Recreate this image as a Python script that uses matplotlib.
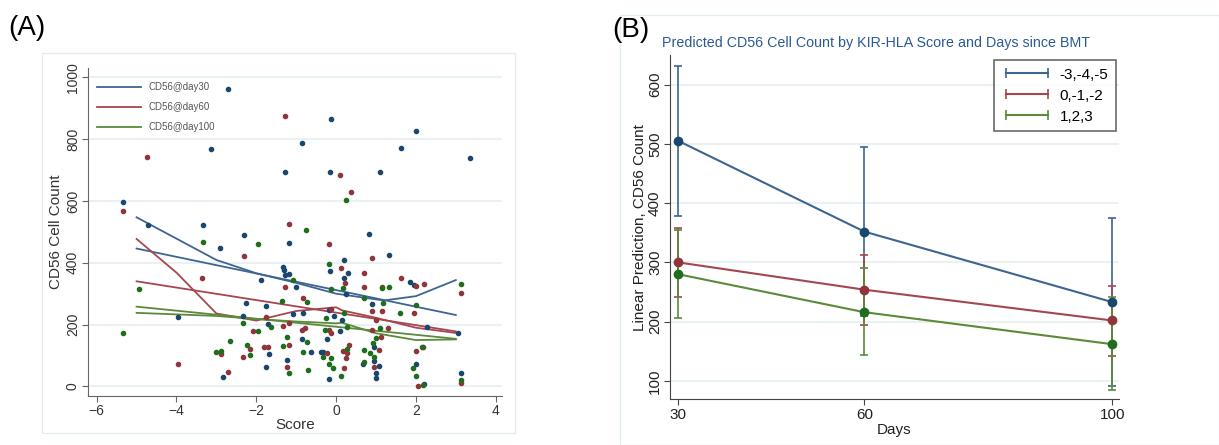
import numpy as np
import matplotlib.pyplot as plt
from matplotlib.patches import Rectangle
from matplotlib.lines import Line2D

plt.rcParams['font.family'] = ['Liberation Sans', 'DejaVu Sans']

# ---- panel A data (score, CD56 count) ----
blue_x = [-5.33, -4.71, -2.72, -3.13, -3.34, -3.97, -2.90, -2.31, -2.25, -2.34, -1.89, -1.75, -1.70,
          -1.68, -1.75, -2.83, -1.29, -1.18, -1.34, -1.30, -1.29, -1.17, -1.01, -1.08, -1.23, -0.85,
          -0.84, -0.86, -0.64, -0.39, -0.33, -0.23, -0.17, -0.18, -0.12, -0.15, -0.15, -0.06, 0.10,
          0.16, 0.20, 0.21, 0.31, 0.25, 0.83, 0.89, 0.95, 0.68, 0.96, 1.00, 1.07, 1.11, 1.32, 1.62,
          1.85, 1.95, 1.99, 2.00, 2.20, 2.27, 3.05, 3.14, 3.35, 0.99]
blue_y = [595, 522, 961, 767, 522, 225, 447, 491, 269, 229, 344, 260, 201,
          104, 64, 30, 695, 463, 387, 377, 359, 364, 323, 233, 87, 786,
          236, 155, 111, 112, 112, 155, 247, 23, 866, 694, 374, 228, 178,
          215, 408, 352, 366, 299, 493, 266, 82, 74, 128, 42, 66, 695, 426, 772,
          339, 328, 825, 74, 8, 191, 172, 42, 739, 26]
red_x = [-5.33, -4.73, -3.96, -3.35, -2.89, -2.72, -2.31, -2.34, -2.16, -2.09, -1.81, -1.75, -1.71,
         -1.29, -1.18, -1.29, -1.33, -1.17, -1.17, -1.24, -0.82, -0.86, -0.78, -0.17, -0.13, -0.18,
         -0.14, -0.23, 0.10, 0.37, 0.12, 0.23, 0.17, 0.28, 0.33, 0.21, 0.25, 0.69, 0.69, 0.90, 0.90,
         1.14, 1.16, 1.00, 0.90, 1.13, 1.07, 0.94, 1.30, 1.62, 1.99, 2.21, 1.95, 1.99, 2.18, 2.04,
         3.14, 3.13]
red_y = [568, 743, 74, 352, 104, 47, 423, 94, 120, 179, 128, 225, 128,
         876, 525, 323, 197, 206, 134, 64, 287, 182, 188, 462, 252, 182,
         174, 109, 683, 629, 384, 333, 114, 107, 134, 59, 93, 368, 323, 417, 245,
         323, 245, 215, 182, 161, 118, 64, 188, 350, 326, 330, 236, 115, 128, 1,
         301, 10]
green_x = [-5.33, -4.93, -3.34, -3.02, -2.89, -2.66, -2.34, -2.24, -2.16, -1.95, -1.95, -1.64, -1.35,
           -1.33, -1.23, -1.19, -1.09, -0.76, -0.74, -0.84, -0.73, -0.71, -0.34, -0.29, -0.26, -0.17,
           -0.14, -0.12, -0.08, -0.18, 0.12, 0.18, 0.24, 0.21, 0.28, 0.28, 0.69, 0.70, 0.69, 0.84,
           0.93, 0.96, 1.00, 1.14, 1.18, 1.32, 1.11, 1.61, 1.99, 1.93, 1.99, 2.16, 2.19, 3.14, 3.13]
green_y = [174, 314, 468, 112, 114, 148, 204, 133, 101, 462, 179, 193, 277,
           131, 159, 44, 344, 506, 273, 112, 145, 53, 94, 182, 220, 395,
           314, 93, 61, 74, 33, 317, 603, 236, 193, 120, 287, 118, 80, 109,
           141, 94, 157, 317, 269, 323, 188, 236, 263, 58, 35, 128, 4, 330, 20]

# fitted lines
fit_x = [-5, 3]
blue_fit = [446, 231]
red_fit = [340, 178]
green_fit = [258, 154]
low_blue_x = [-5, -3, -2, -1, 0, 1.2, 2, 3]
low_blue_y = [547, 409, 366, 335, 300, 278, 292, 344]
low_red_x = [-5, -4, -3, -2, -1, 0, 0.15, 1, 2, 3]
low_red_y = [477, 368, 236, 213, 244, 256, 246, 222, 190, 173]
low_green_x = [-5, -3, -2, -1, 0, 0.15, 1, 2, 3]
low_green_y = [238, 228, 218, 210, 204, 206, 172, 150, 152]

# ---- panel B data ----
days = [30, 60, 100]
groups = ['-3,-4,-5', '0,-1,-2', '1,2,3']
pred_blue = [505, 352, 233]
lo_blue = [378, 210, 92]
hi_blue = [632, 495, 375]
pred_red = [300, 254, 202]
lo_red = [242, 195, 142]
hi_red = [358, 313, 261]
pred_green = [280, 216, 162]
lo_green = [207, 143, 84]
hi_green = [354, 290, 241]

c_blue, c_red, c_green = '#3d6591', '#a4474f', '#5b8a3a'
d_blue, d_red, d_green = '#1a476f', '#90353b', '#1e6e1e'
grid_c = '#e6eff1'

fig = plt.figure(figsize=(12.19, 4.45), dpi=100)
fig.patches.append(Rectangle((42/1219, 1-433/445), (515-42)/1219, (433-53)/445,
                             transform=fig.transFigure, fill=False, ec='#e2edf1', lw=1))
fig.patches.append(Rectangle((620/1219, 0), (1219-620)/1219, (445-15)/445,
                             transform=fig.transFigure, fill=False, ec='#e2edf1', lw=1))

# ---- panel A ----
ax = fig.add_axes([88.3/1219, 1-395.7/445, (502.3-88.3)/1219, (395.7-68.3)/445])
ax.scatter(blue_x, blue_y, s=9, color=d_blue, zorder=3)
ax.scatter(red_x, red_y, s=9, color=d_red, zorder=3)
ax.scatter(green_x, green_y, s=9, color=d_green, zorder=3)
ax.plot(fit_x, blue_fit, color=c_blue, lw=1.3, label='CD56@day30')
ax.plot(low_blue_x, low_blue_y, color=c_blue, lw=1.3)
ax.plot(fit_x, red_fit, color=c_red, lw=1.3, label='CD56@day60')
ax.plot(low_red_x, low_red_y, color=c_red, lw=1.3)
ax.plot(fit_x, green_fit, color=c_green, lw=1.3, label='CD56@day100')
ax.plot(low_green_x, low_green_y, color=c_green, lw=1.3)
ax.set_xlim(-6.21, 4.165)
ax.set_ylim(-30, 1029)
ax.set_xticks([-6, -4, -2, 0, 2, 4])
ax.set_yticks([0, 200, 400, 600, 800, 1000])
ax.yaxis.grid(True, color=grid_c, lw=1.2)
ax.set_axisbelow(True)
for s in ['top', 'right']:
    ax.spines[s].set_visible(False)
for s in ['left', 'bottom']:
    ax.spines[s].set_color('#666666')
ax.tick_params(colors='#666666', labelcolor='#333333', labelsize=10, length=4, pad=2)
plt.setp(ax.get_yticklabels(), rotation=90, va='center')
ax.set_xlabel('Score', fontsize=11, color='#333333', labelpad=0)
ax.set_ylabel('CD56 Cell Count', fontsize=11, color='#333333', labelpad=2)
ax.legend(loc='upper left', frameon=False, fontsize=7, labelcolor='#555555',
          handlelength=4.5, labelspacing=1.05, bbox_to_anchor=(0.0, 0.985))
fig.text(8/1219, 1-28/445, '(A)', fontsize=20, va='center', ha='left')

# ---- panel B ----
bx = fig.add_axes([670.3/1219, 1-399.3/445, (1118.5-670.3)/1219, (399.3-55)/445])
for pred, lo, hi, c, d in [(pred_blue, lo_blue, hi_blue, c_blue, d_blue),
                           (pred_red, lo_red, hi_red, c_red, d_red),
                           (pred_green, lo_green, hi_green, c_green, d_green)]:
    pred = np.array(pred)
    err = [pred - np.array(lo), np.array(hi) - pred]
    bx.errorbar(days, pred, yerr=err, color=c, lw=1.5, capsize=3, capthick=1.2,
                elinewidth=1.2, marker='o', ms=6, mfc=d, mec=d)
bx.set_xlim(28.7, 101)
bx.set_ylim(69, 650)
bx.set_xticks(days)
bx.set_yticks([100, 200, 300, 400, 500, 600])
bx.yaxis.grid(True, color=grid_c, lw=1.2)
bx.set_axisbelow(True)
for s in ['top', 'right']:
    bx.spines[s].set_visible(False)
for s in ['left', 'bottom']:
    bx.spines[s].set_color('#444444')
bx.tick_params(colors='#444444', labelcolor='#222222', labelsize=11, length=4, pad=2)
plt.setp(bx.get_yticklabels(), rotation=90, va='center')
bx.set_xlabel('Days', fontsize=11, color='#222222', labelpad=1)
bx.set_ylabel('Linear Prediction, CD56 Count', fontsize=11, color='#222222', labelpad=1)
fig.text(876/1219, 1-43/445, 'Predicted CD56 Cell Count by KIR-HLA Score and Days since BMT',
         fontsize=10.3, color='#2c5a94', ha='center', va='center')
handles = [Line2D([], [], color=c, lw=1.5, marker='|', ms=7, mew=1.2)
           for c in [c_blue, c_red, c_green]]
leg = bx.legend(handles, groups, loc='upper right', fontsize=11, handlelength=3.3, numpoints=2,
                frameon=True, fancybox=False, edgecolor='#444444', bbox_to_anchor=(0.995, 0.985),
                borderaxespad=0, borderpad=0.5, labelspacing=0.45, handletextpad=0.5)
leg.get_frame().set_linewidth(1.2)
fig.text(612/1219, 1-30/445, '(B)', fontsize=20, va='center', ha='left')

fig.savefig('out.png', dpi=100)
